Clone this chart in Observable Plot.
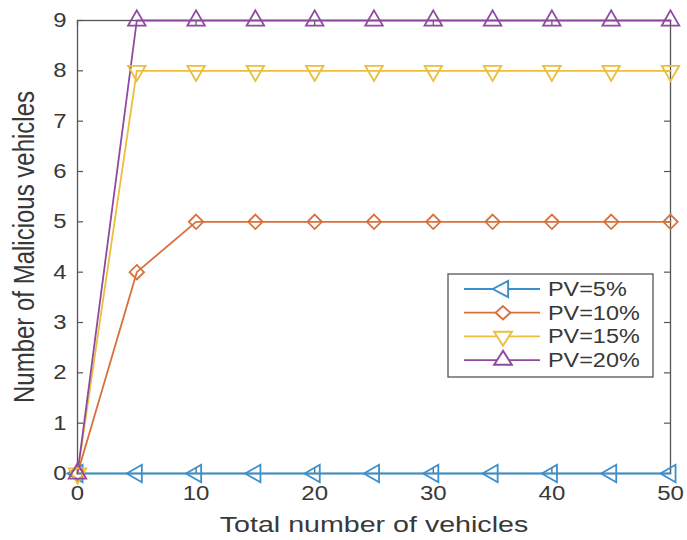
<!DOCTYPE html>
<html><head><meta charset="utf-8">
<script src="https://cdn.jsdelivr.net/npm/d3@7"></script>
<script src="https://cdn.jsdelivr.net/npm/@observablehq/plot@0.6"></script>
<style>
body{margin:0;background:#fff;font-family:"Liberation Sans",Arial,sans-serif;}
#chart{position:relative;width:687px;height:540px;}
</style></head>
<body><div id="chart"></div>
<script>
const xValues = [0,5,10,15,20,25,30,35,40,45,50];
const pv5  = [0,0,0,0,0,0,0,0,0,0,0];
const pv10 = [0,4,5,5,5,5,5,5,5,5,5];
const pv15 = [0,8,8,8,8,8,8,8,8,8,8];
const pv20 = [0,9,9,9,9,9,9,9,9,9,9];
const seriesNames = ["PV=5%","PV=10%","PV=15%","PV=20%"];
const seriesColors = ["#3d8fcc","#d9703a","#ebbf3c","#8e4aa0"];
const seriesSymbols = ["triangle","diamond2","triangle","triangle"];
const seriesRotate = [-90,0,180,0];
const xTicks = [0,10,20,30,40,50];
const yTicks = [0,1,2,3,4,5,6,7,8,9];
const xLabel = "Total number of vehicles";
const yLabel = "Number of Malicious vehicles";

const allSeries = [pv5,pv10,pv15,pv20];
const data = [];
allSeries.forEach((vals,si)=>vals.forEach((v,i)=>data.push({x:xValues[i],y:v,s:seriesNames[si],si})));

const W=687,H=540,ML=77,MR=17,MT=20,MB=67;
const tickLen = 6;
const xPerPx = 50/(W-ML-MR), yPerPx = 9/(H-MT-MB);
const txt = "#383838";
const stretch = 1.2;

const marks = [
  Plot.frame({stroke:"#555",strokeWidth:1.3}),
  Plot.ruleY(yTicks,{y:d=>d,x1:0,x2:tickLen*xPerPx,stroke:"#555",strokeWidth:1.2}),
  Plot.ruleY(yTicks,{y:d=>d,x1:50-tickLen*xPerPx,x2:50,stroke:"#555",strokeWidth:1.2}),
  Plot.ruleX(xTicks,{x:d=>d,y1:0,y2:tickLen*yPerPx,stroke:"#555",strokeWidth:1.2}),
  Plot.ruleX(xTicks,{x:d=>d,y1:9-tickLen*yPerPx,y2:9,stroke:"#555",strokeWidth:1.2}),
  Plot.axisX(xTicks,{tickSize:0,tickPadding:12,fill:txt,label:null,tickFormat:d3.format("d")}),
  Plot.axisY(yTicks,{tickSize:0,tickPadding:11,fill:txt,label:null,tickFormat:d3.format("d")}),
  Plot.text([xLabel],{frameAnchor:"bottom",textAnchor:"middle",lineAnchor:"middle",dy:51,fontSize:22,fill:txt}),
  Plot.text([yLabel],{frameAnchor:"left",textAnchor:"middle",lineAnchor:"middle",dx:-53,rotate:-90,fontSize:24,fill:txt}),
];
seriesNames.forEach((n,si)=>{
  const d = data.filter(r=>r.si===si);
  marks.push(Plot.line(d,{x:"x",y:"y",stroke:seriesColors[si],strokeWidth:1.8}));
});
seriesNames.forEach((n,si)=>{
  const d = data.filter(r=>r.si===si);
  marks.push(Plot.dot(d,{x:"x",y:"y",symbol:()=>seriesSymbols[si],rotate:seriesRotate[si],r:6.5,stroke:seriesColors[si],strokeWidth:1.8,fill:"none"}));
});

const plot = Plot.plot({
  width:W,height:H,marginLeft:ML,marginRight:MR,marginTop:MT,marginBottom:MB,
  style:{fontFamily:"'Liberation Sans',Arial,sans-serif",fontSize:"20px",background:"#fff",overflow:"visible"},
  x:{domain:[0,50]},
  y:{domain:[0,9]},
  symbol:{type:"identity"},
  marks
});
document.getElementById("chart").appendChild(plot);

const svg = d3.select(plot);
// widen glyphs horizontally as in the reference image
function widen(sel, factor){
  sel.each(function(){
    const L = this.getComputedTextLength();
    this.setAttribute("textLength", (L*factor).toFixed(1));
    this.setAttribute("lengthAdjust","spacingAndGlyphs");
  });
}
widen(svg.selectAll('g[aria-label="x-axis tick label"] text, g[aria-label="y-axis tick label"] text'), stretch);
svg.selectAll("text").each(function(){
  if (this.textContent === xLabel) widen(d3.select(this), 1.3);
  if (this.textContent === yLabel) {
    const t = this.getAttribute("transform") || "";
    this.setAttribute("transform", t.replace("rotate", "scale(1.2,1) rotate"));
  }
});

// Legend
const lg = svg.append("g").attr("transform","translate(448,274)");
lg.append("rect").attr("width",205).attr("height",103).attr("fill","#fff").attr("stroke","#555").attr("stroke-width",1.3);
seriesNames.forEach((n,si)=>{
  const yy = 15 + si*23.7;
  const row = lg.append("g").attr("transform",`translate(0,${yy})`);
  row.append("line").attr("x1",16).attr("x2",92).attr("stroke",seriesColors[si]).attr("stroke-width",1.8);
  const sym = {triangle:d3.symbolTriangle,diamond2:d3.symbolDiamond2}[seriesSymbols[si]];
  row.append("path").attr("d",d3.symbol(sym,Math.PI*6*6)())
    .attr("transform",`translate(55,0) scale(1.1,1) rotate(${seriesRotate[si]})`)
    .attr("fill","#fff").attr("stroke",seriesColors[si]).attr("stroke-width",1.8);
  const t = row.append("text").attr("x",100).attr("y",0).attr("dy","0.35em").attr("text-anchor","start")
    .attr("font-size",19.5).attr("fill",txt).text(n);
  widen(t, 1.2);
});
</script></body></html>
